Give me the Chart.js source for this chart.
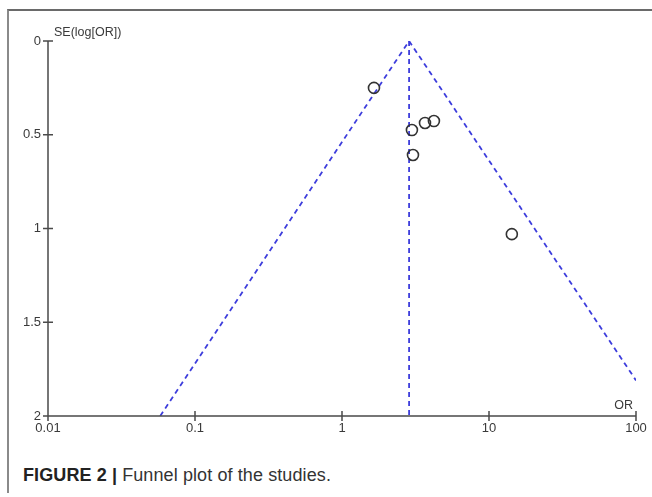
<!DOCTYPE html>
<html>
<head>
<meta charset="utf-8">
<script src="https://cdn.jsdelivr.net/npm/chart.js@4.4.1/dist/chart.umd.min.js"></script>
<style>
  html, body { margin:0; padding:0; background:#fff; }
  body { width:652px; height:497px; position:relative; overflow:hidden; font-family:"Liberation Sans", Arial, sans-serif; }
  #frame { position:absolute; left:7px; top:9px; right:-10px; bottom:4px; border-top:2px solid #6a6a6a; border-left:2px solid #8a8a8a; }
  #wrap { position:absolute; left:0; top:0; width:652px; height:440px; }
  #caption { position:absolute; left:23px; top:465px; font-size:18px; line-height:21px; color:#333; white-space:nowrap; letter-spacing:0.1px; }
  #caption b { color:#222; }
</style>
</head>
<body>
<div id="frame"></div>
<div id="wrap"><canvas id="c" width="652" height="440"></canvas></div>
<div id="caption"><b>FIGURE 2 |</b> Funnel plot of the studies.</div>
<script>
// estudios (OR, SE del log OR)
const studyOR = [1.65, 2.99, 3.67, 4.22, 3.04, 14.3]
const studySE = [0.25, 0.475, 0.437, 0.427, 0.608, 1.03]

// OR combinado y bordes del embudo
const pooledOR = 2.86
const funnelLeftOR = [0.058, 2.86]
const funnelLeftSE = [2, 0]
const funnelRightOR = [2.86, 100]
const funnelRightSE = [0, 1.81]

const xTicks = [0.01, 0.1, 1, 10, 100]
const yTicks = [0, 0.5, 1, 1.5, 2]

const pts = (xs, ys) => xs.map((x, i) => ({ x, y: ys[i] }))
const blue = '#3d3ddc'
const axisCol = '#4a4a4a'
const txtCol = '#3a3a3a'
const fontFam = '"Liberation Sans", Arial, sans-serif'

// ejes con marcas que cruzan la linea + titulos
const axesPlugin = {
  id: 'axesPlugin',
  afterDraw(chart) {
    const { ctx, chartArea: a, scales: { x, y } } = chart
    ctx.save()
    ctx.strokeStyle = axisCol
    ctx.lineWidth = 1.5
    ctx.beginPath()
    ctx.moveTo(a.left, a.top); ctx.lineTo(a.left, a.bottom); ctx.lineTo(a.right, a.bottom)
    xTicks.forEach(v => { const px = x.getPixelForValue(v); ctx.moveTo(px, a.bottom - 5); ctx.lineTo(px, a.bottom + 5) })
    yTicks.forEach(v => { const py = y.getPixelForValue(v); ctx.moveTo(a.left - 5, py); ctx.lineTo(a.left + 5, py) })
    ctx.stroke()
    ctx.fillStyle = txtCol
    ctx.font = '12.5px ' + fontFam
    ctx.textBaseline = 'middle'
    ctx.textAlign = 'left'
    ctx.fillText('SE(log[OR])', a.left + 6, a.top - 8)
    ctx.textAlign = 'right'
    ctx.fillText('OR', a.right - 3, a.bottom - 10)
    ctx.restore()
  }
}

const dashLine = { showLine: true, pointRadius: 0, borderColor: blue, borderWidth: 1.8, borderDash: [5, 4] }

new Chart(document.getElementById('c'), {
  type: 'scatter',
  data: {
    datasets: [
      { data: pts(studyOR, studySE), showLine: false, pointRadius: 5.5, pointHoverRadius: 5.5,
        pointBackgroundColor: 'rgba(0,0,0,0)', pointBorderColor: '#333', pointBorderWidth: 1.6 },
      { data: pts([pooledOR, pooledOR], [0, 2]), ...dashLine },
      { data: pts(funnelLeftOR, funnelLeftSE), ...dashLine },
      { data: pts(funnelRightOR, funnelRightSE), ...dashLine }
    ]
  },
  options: {
    responsive: false,
    animation: false,
    layout: { padding: { left: 0, right: 16, top: 41, bottom: 0 } },
    plugins: { legend: { display: false }, tooltip: { enabled: false } },
    scales: {
      x: {
        type: 'logarithmic', min: 0.01, max: 100,
        border: { display: false },
        grid: { display: false, drawTicks: false, tickLength: 0 },
        afterBuildTicks: s => { s.ticks = xTicks.map(v => ({ value: v })) },
        afterFit: s => { s.height = 24 },
        ticks: { color: txtCol, padding: 5, maxRotation: 0, autoSkip: false,
          font: { size: 13, family: fontFam },
          callback: v => String(v) }
      },
      y: {
        reverse: true, min: 0, max: 2,
        border: { display: false },
        grid: { display: false, drawTicks: false, tickLength: 0 },
        afterBuildTicks: s => { s.ticks = yTicks.map(v => ({ value: v })) },
        afterFit: s => { s.width = 48 },
        ticks: { color: txtCol, padding: 7,
          font: { size: 13, family: fontFam },
          callback: v => String(v) }
      }
    }
  },
  plugins: [axesPlugin]
})
</script>
</body>
</html>
